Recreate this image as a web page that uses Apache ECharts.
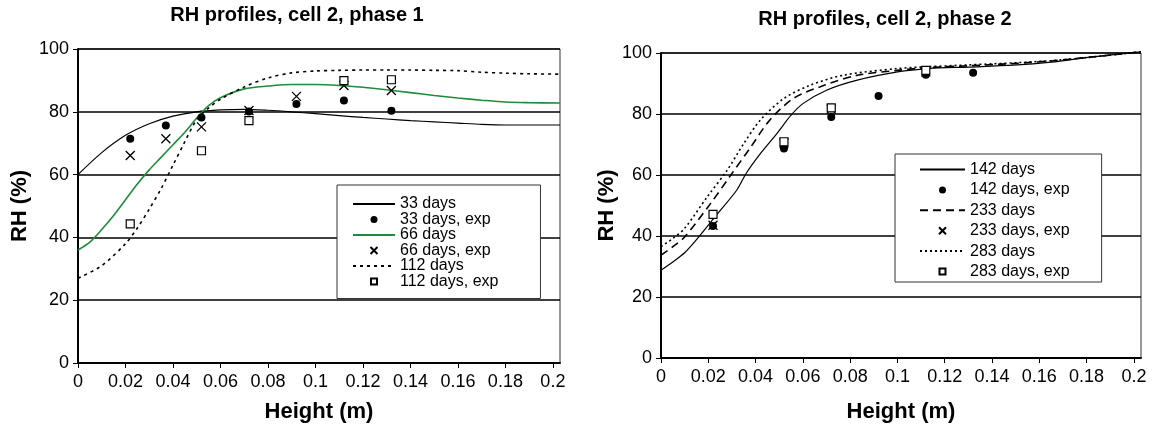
<!DOCTYPE html>
<html>
<head>
<meta charset="utf-8">
<script src="https://cdn.jsdelivr.net/npm/echarts@6/dist/echarts.min.js"></script>
<style>html,body{margin:0;padding:0;background:#fff}#c{width:1154px;height:432px}</style>
</head>
<body>
<div id="c"></div>
<script>
// ---- Data: phase 1 (left) ----
const xTicks = [0, 0.02, 0.04, 0.06, 0.08, 0.1, 0.12, 0.14, 0.16, 0.18, 0.2];
const yTicks = [0, 20, 40, 60, 80, 100];

const p1_33H  = [0, 0.01, 0.02, 0.03, 0.04, 0.05, 0.06, 0.07, 0.08, 0.09, 0.1, 0.11, 0.12, 0.13, 0.14, 0.15, 0.16, 0.17, 0.18, 0.19, 0.203];
const p1_33RH = [60, 67, 72.5, 76.2, 78.6, 80, 80.6, 80.8, 80.5, 80, 79.4, 78.8, 78.2, 77.7, 77.2, 76.8, 76.4, 76, 75.8, 75.8, 75.8];

const p1_66H  = [0, 0.005, 0.01, 0.015, 0.02, 0.025, 0.03, 0.035, 0.04, 0.045, 0.05, 0.055, 0.06, 0.07, 0.08, 0.09, 0.1, 0.11, 0.12, 0.13, 0.14, 0.15, 0.16, 0.17, 0.18, 0.19, 0.203];
const p1_66RH = [36, 38.5, 42.5, 47, 52, 57, 61.5, 65.5, 69.5, 73.5, 78, 82, 84.5, 87.3, 88.2, 88.7, 88.7, 88.4, 87.8, 87, 86.1, 85.2, 84.4, 83.7, 83.1, 82.9, 82.8];

const p1_112H  = [0, 0.01, 0.02, 0.025, 0.03, 0.035, 0.04, 0.045, 0.05, 0.055, 0.06, 0.07, 0.08, 0.09, 0.1, 0.11, 0.12, 0.13, 0.14, 0.15, 0.16, 0.17, 0.18, 0.19, 0.203];
const p1_112RH = [27, 31, 38, 43, 49, 55.5, 63, 70.5, 77.5, 81.2, 84, 87.9, 90.8, 92.4, 93, 93.2, 93.3, 93.3, 93.3, 93.2, 93.1, 92.6, 92.3, 92.1, 92];

const p1_expH   = [0.022, 0.037, 0.052, 0.072, 0.092, 0.112, 0.132];
const p1_33exp  = [71.4, 75.6, 78.2, 80.1, 82.5, 83.6, 80.3];
const p1_66exp  = [66.1, 71.4, 75.2, 80.4, 84.9, 88.4, 86.8];
const p1_112expH = [0.022, 0.052, 0.072, 0.112, 0.132];
const p1_112exp  = [44.3, 67.6, 77.2, 89.9, 90.2];

// ---- Data: phase 2 (right) ----
const p2_142H  = [0, 0.005, 0.01, 0.016, 0.024, 0.032, 0.036, 0.042, 0.049, 0.055, 0.06, 0.07, 0.083, 0.1, 0.113, 0.13, 0.149, 0.165, 0.182, 0.203];
const p2_142RH = [28.8, 31.5, 34.5, 39.7, 47.4, 55, 60.5, 67, 73.6, 79.6, 83.4, 87.8, 91.1, 93.8, 94.9, 95.4, 96, 97, 98.7, 100.4];

const p2_233H  = [0, 0.005, 0.01, 0.021, 0.029, 0.038, 0.046, 0.056, 0.069, 0.083, 0.1, 0.113, 0.13, 0.15, 0.165, 0.18, 0.203];
const p2_233RH = [33.7, 36.5, 39.7, 50.7, 59.4, 69.2, 78, 85.1, 89.4, 92.7, 94.3, 95.2, 95.8, 96.6, 97.4, 98.5, 100.4];

const p2_283H  = [0, 0.005, 0.01, 0.0195, 0.028, 0.035, 0.042, 0.052, 0.063, 0.077, 0.1, 0.113, 0.13, 0.15, 0.165, 0.18, 0.203];
const p2_283RH = [36.5, 39.2, 42.5, 52.8, 61.6, 70.3, 78, 85.1, 89.4, 92.7, 94.9, 95.5, 96.1, 96.8, 97.5, 98.5, 100.4];

const p2_142expH = [0.022, 0.052, 0.072, 0.092, 0.112, 0.132];
const p2_142exp  = [43.3, 68.7, 79, 85.9, 92.9, 93.5];
const p2_233expH = [0.022, 0.052, 0.072, 0.112];
const p2_233exp  = [43.5, 70.5, 81.6, 93.8];
const p2_283expH = [0.022, 0.052, 0.072, 0.112];
const p2_283exp  = [47.1, 70.9, 82, 94.3];

const FONT = '"Liberation Sans", Arial, sans-serif';
const zip = (a, b) => a.map((v, i) => [v, b[i]]);
const CROSS = 'path://M0,0L10,10M10,0L0,10';

function xAxisCfg(gi, gap) {
  return {
    type: 'value', gridIndex: gi, min: 0, max: 0.203,
    name: 'Height (m)', nameLocation: 'middle', nameGap: gap,
    nameTextStyle: { fontFamily: FONT, fontSize: 22, fontWeight: 'bold', color: '#000' },
    axisLine: { lineStyle: { color: '#000', width: 2 } },
    axisTick: { show: true, length: 5, customValues: xTicks, lineStyle: { color: '#000', width: 1 } },
    axisLabel: { customValues: xTicks, fontFamily: FONT, fontSize: 18, color: '#000', margin: 10,
                 formatter: v => String(v) },
    splitLine: { show: false }
  };
}
function yAxisCfg(gi, gap) {
  return {
    type: 'value', gridIndex: gi, min: 0, max: 100, interval: 20,
    name: 'RH (%)', nameLocation: 'middle', nameGap: gap,
    nameTextStyle: { fontFamily: FONT, fontSize: 22, fontWeight: 'bold', color: '#000' },
    axisLine: { show: true, lineStyle: { color: '#000', width: 2 } },
    axisTick: { show: true, length: 5, lineStyle: { color: '#000', width: 1 } },
    axisLabel: { customValues: yTicks, fontFamily: FONT, fontSize: 18, color: '#000', margin: 9 },
    splitLine: { show: true, lineStyle: { color: '#000', width: 1.6 } }
  };
}
function lineS(name, gi, data, style) {
  return { name, type: 'line', xAxisIndex: gi, yAxisIndex: gi, data, symbol: 'none',
           smooth: 0.3, clip: false, z: 2,
           lineStyle: style, itemStyle: { color: style.color } };
}
function dotS(name, gi, data, kind) {
  const s = { name, type: 'scatter', xAxisIndex: gi, yAxisIndex: gi, data, z: 5, symbolKeepAspect: true };
  if (kind === 'dot') { s.symbol = 'circle'; s.symbolSize = 8; s.itemStyle = { color: '#000', opacity: 1 }; }
  if (kind === 'cross') { s.symbol = CROSS; s.symbolSize = 9; s.itemStyle = { color: 'none', borderColor: '#000', borderWidth: 1.3, opacity: 1 }; }
  if (kind === 'square') { s.symbol = 'rect'; s.symbolSize = 8; s.itemStyle = { color: '#fff', borderColor: '#000', borderWidth: 1.2, opacity: 1 }; }
  return s;
}
const lineItem = n => ({ name: n, itemStyle: { opacity: 0 } });
// legend square icon: invisible corner moves keep the icon box at itemWidth x itemHeight
const squareItem = (n, w) => ({ name: n, icon: 'path://M0,0M' + w + ',7M' + (w / 2 - 3) + ',0.5h6v6h-6z' });

const chart = echarts.init(document.getElementById('c'), null, { renderer: 'canvas' });
chart.setOption({
  backgroundColor: '#fff',
  animation: false,
  title: [
    { text: 'RH profiles, cell 2, phase 1', left: 292, top: 0, textAlign: 'center',
      textStyle: { fontFamily: FONT, fontSize: 20, fontWeight: 'bold', color: '#000' } },
    { text: 'RH profiles, cell 2, phase 2', left: 880, top: 4, textAlign: 'center',
      textStyle: { fontFamily: FONT, fontSize: 20, fontWeight: 'bold', color: '#000' } }
  ],
  grid: [
    { left: 78, right: 594, top: 49, bottom: 69, show: true, borderColor: '#333', borderWidth: 1, backgroundColor: 'transparent' },
    { left: 661, right: 13, top: 53, bottom: 74, show: true, borderColor: '#333', borderWidth: 1, backgroundColor: 'transparent' }
  ],
  xAxis: [xAxisCfg(0, 38), xAxisCfg(1, 43)],
  yAxis: [yAxisCfg(0, 47), yAxisCfg(1, 33)],
  legend: [
    { orient: 'vertical', left: 337, top: 185, padding: [11, 42, 9, 15],
      itemWidth: 42, itemHeight: 7, itemGap: -0.5,
      borderColor: '#333', borderWidth: 1, backgroundColor: '#fff',
      textStyle: { fontFamily: FONT, fontSize: 16, lineHeight: 16, color: '#000' },
      data: [lineItem('33 days'), '33 days, exp', lineItem('66 days'), '66 days, exp', lineItem('112 days'), squareItem('112 days, exp', 42)] },
    { orient: 'vertical', left: 895, top: 154, padding: [7.5, 32, 2.5, 24],
      itemWidth: 45, itemHeight: 7, itemGap: 4.4,
      borderColor: '#333', borderWidth: 1, backgroundColor: '#fff',
      textStyle: { fontFamily: FONT, fontSize: 16, lineHeight: 16, color: '#000' },
      data: [lineItem('142 days'), '142 days, exp', lineItem('233 days'), '233 days, exp', lineItem('283 days'), squareItem('283 days, exp', 45)] }
  ],
  series: [
    lineS('33 days', 0, zip(p1_33H, p1_33RH), { color: '#000', width: 1.2, type: 'solid' }),
    dotS('33 days, exp', 0, zip(p1_expH, p1_33exp), 'dot'),
    lineS('66 days', 0, zip(p1_66H, p1_66RH), { color: '#1e8c3a', width: 1.6, type: 'solid' }),
    dotS('66 days, exp', 0, zip(p1_expH, p1_66exp), 'cross'),
    lineS('112 days', 0, zip(p1_112H, p1_112RH), { color: '#000', width: 1.6, type: [3, 4] }),
    dotS('112 days, exp', 0, zip(p1_112expH, p1_112exp), 'square'),

    lineS('142 days', 1, zip(p2_142H, p2_142RH), { color: '#000', width: 1.2, type: 'solid' }),
    dotS('142 days, exp', 1, zip(p2_142expH, p2_142exp), 'dot'),
    lineS('233 days', 1, zip(p2_233H, p2_233RH), { color: '#000', width: 1.6, type: [8, 5] }),
    dotS('233 days, exp', 1, zip(p2_233expH, p2_233exp), 'cross'),
    lineS('283 days', 1, zip(p2_283H, p2_283RH), { color: '#000', width: 1.6, type: [2, 3] }),
    dotS('283 days, exp', 1, zip(p2_283expH, p2_283exp), 'square')
  ]
});
</script>
</body>
</html>
